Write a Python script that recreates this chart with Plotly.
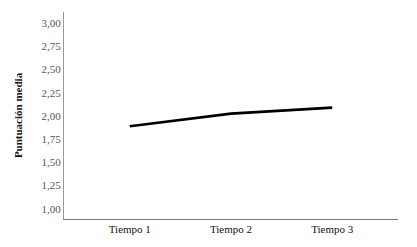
import plotly.graph_objects as go

categories = ["Tiempo 1", "Tiempo 2", "Tiempo 3"]
means = [1.89, 2.025, 2.09]
y_ticks = [1.00, 1.25, 1.50, 1.75, 2.00, 2.25, 2.50, 2.75, 3.00]

SERIF = "Liberation Serif, Times New Roman, DejaVu Serif, serif"

fig = go.Figure()
fig.add_trace(go.Scatter(x=[0, 1, 2], y=means, mode="lines",
                         line=dict(color="black", width=2.6), showlegend=False))

fig.update_layout(
    width=409, height=239,
    margin=dict(l=56, r=19, t=4, b=28),
    plot_bgcolor="white", paper_bgcolor="white",
    separators=",.",
    font=dict(family=SERIF, size=11, color="#222"),
    xaxis=dict(range=[-0.65, 2.65], tickvals=[0, 1, 2], ticktext=categories,
               showgrid=False, zeroline=False, showline=True, linecolor="#777",
               linewidth=1, ticks="", tickfont=dict(family=SERIF, size=11, color="#111")),
    yaxis=dict(range=[0.89, 3.12], tickvals=y_ticks, tickformat=".2f",
               showgrid=False, zeroline=False, showline=True, linecolor="#999",
               linewidth=1, ticks="", tickfont=dict(family=SERIF, size=11, color="#555"),
               title=dict(text="<b>Puntuación media</b>",
                          font=dict(family=SERIF, size=11, color="#111"),
                          standoff=16)),
)

fig.write_html("out.html")
